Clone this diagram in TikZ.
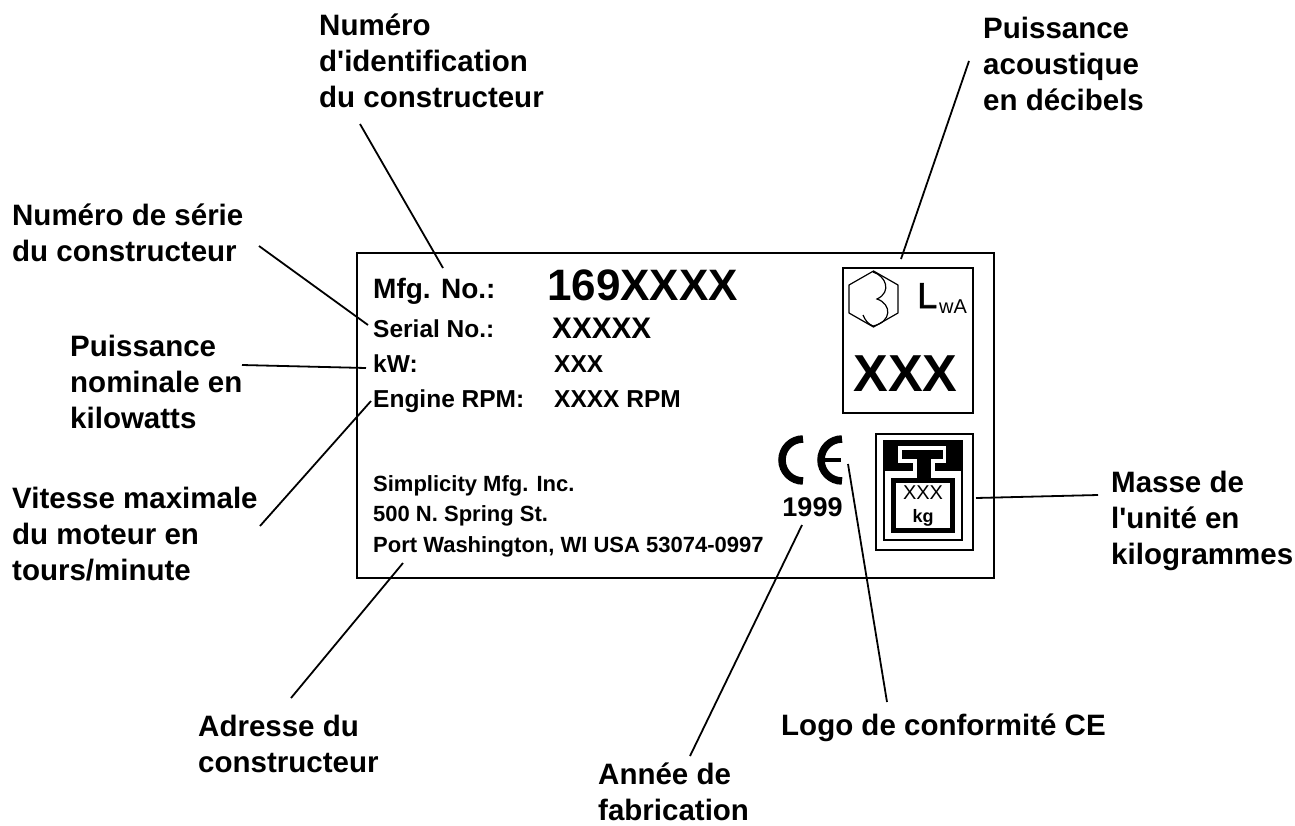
\documentclass[tikz,border=0pt]{standalone}
\usepackage{fontspec}
\setmainfont{Liberation Sans}
\newfontfamily\aposfont{Liberation Sans}
\newfontfamily\heavyfont[FakeBold=1.5]{Liberation Sans}
\newcommand\straightap{{\aposfont '}}
\tikzset{
  x=1pt,y=-1pt,
  callout/.style={inner sep=0pt,font=\fontsize{29.5}{36}\selectfont\bfseries,align=left,anchor=north west,execute at begin node={\rule{0pt}{22pt}}},
  plate/.style={inner sep=0pt,anchor=base west,font=\fontsize{24.5}{26}\selectfont\bfseries},
  small/.style={inner sep=0pt,anchor=base west,font=\fontsize{22}{24}\selectfont\bfseries},
  leader/.style={line width=1.8pt,black},
  frame/.style={draw=black,line width=1.8pt,fill=white,inner sep=0pt,anchor=north west},
}
\begin{document}
\begin{tikzpicture}
\useasboundingbox (0,0) rectangle (1295,825);
\fill[white] (0,0) rectangle (1295,825);
% plate
\node[frame,minimum width=637pt,minimum height=325pt] (plate) at (356,252) {};
\node[frame,minimum width=130pt,minimum height=145pt] (acoustic) at (842,267) {};
\node[frame,minimum width=97pt,minimum height=116pt] (mass) at (875,433) {};
% plate texts
\node[plate,font=\fontsize{28}{30}\selectfont\bfseries] (mfg) at (373,298) {Mfg. No.:};
\node[plate,font=\fontsize{44}{46}\selectfont\bfseries] (mfgv) at (547,300) {169XXXX};
\node[plate] (serial) at (373,337) {Serial No.:};
\node[plate,font=\fontsize{29.7}{30}\selectfont\bfseries] (serialv) at (552,338) {XXXXX};
\node[plate] (kw) at (373,372) {kW:};
\node[plate] (kwv) at (554,372) {XXX};
\node[plate] (rpm) at (373,407) {Engine RPM:};
\node[plate] (rpmv) at (554,407) {XXXX RPM};
\node[small] (addr1) at (373,491) {Simplicity Mfg. Inc.};
\node[small] (addr2) at (373,521) {500 N. Spring St.};
\node[small] (addr3) at (373,552) {Port Washington, WI USA 53074-0997};
% acoustic symbol
\draw[line width=1.2pt,line join=round] (873.5,271) -- (898,285) -- (898,313) -- (873.5,327) -- (849,313) -- (849,285) -- cycle;
\draw[line width=1.2pt] (873,272) .. controls (886,276) and (892,292) .. (877,299) .. controls (892,304) and (892,322) .. (873,326) .. controls (868,324) and (865,320) .. (863,315);
\node[inner sep=0pt,anchor=base west,font=\heavyfont\fontsize{36}{36}\selectfont] (lsym) at (917,308) {L};
\node[inner sep=0pt,anchor=base west,font=\fontsize{20}{20}\selectfont] (wa) at (939,313) {wA};
\node[inner sep=0pt,anchor=base,font=\fontsize{52}{52}\selectfont\bfseries] (xxx) at (905.5,391) {XXX};
% CE
\draw[line width=7.5pt] (803,481) arc[start angle=90,end angle=270,radius=21];
\draw[line width=7.5pt] (842,481) arc[start angle=90,end angle=270,radius=21];
\draw[line width=4.5pt] (822,460) -- (841,460);
\node[inner sep=0pt,anchor=base,font=\fontsize{27}{28}\selectfont\bfseries] (year) at (812.5,516) {1999};
% mass symbol
\draw[line width=2.5pt] (884.2,470) -- (884.2,540) -- (961.8,540) -- (961.8,470);
\fill (883,440) rectangle (963,471);
\fill[white] (898,446) rectangle (946,463);
\fill (902,450) rectangle (943,459);
\fill (917,459) rectangle (931,480);
\fill[white] (913,463) rectangle (917,471);
\fill[white] (931,463) rectangle (935,471);
\draw[line width=5pt] (893.5,480.5) rectangle (952.5,530.5);
\node[inner sep=0pt,anchor=base,font=\fontsize{20}{20}\selectfont] (xk) at (923,499) {XXX};
\node[inner sep=0pt,anchor=base,font=\fontsize{18}{20}\selectfont\bfseries] (kg) at (923,522) {kg};
% callouts (y = first baseline - 22)
\node[callout] (t1) at (319,14) {Numéro\\d\straightap identification\\du constructeur};
\node[callout] (t2) at (12,204) {Numéro de série\\du constructeur};
\node[callout] (t3) at (70,335) {Puissance\\nominale en\\kilowatts};
\node[callout] (t4) at (12,487) {Vitesse maximale\\du moteur en\\tours/minute};
\node[callout] (t5) at (983,17) {Puissance\\acoustique\\en décibels};
\node[callout] (t6) at (1111,471) {Masse de\\l\straightap unité en\\kilogrammes};
\node[callout] (t7) at (198,715) {Adresse du\\constructeur};
\node[callout] (t8) at (781,713) {Logo de conformité CE};
\node[callout] (t9) at (598,763) {Année de\\fabrication};
% leaders
\coordinate (a1) at (360,124); \coordinate (b1) at (443,268);
\coordinate (a2) at (259,246); \coordinate (b2) at (368,325);
\coordinate (a3) at (242,365); \coordinate (b3) at (366,368);
\coordinate (a4) at (260,526); \coordinate (b4) at (371,401);
\coordinate (a5) at (969,61);  \coordinate (b5) at (901,259);
\coordinate (a6) at (1098,495);\coordinate (b6) at (976,498);
\coordinate (a7) at (887,702); \coordinate (b7) at (848,464);
\coordinate (a8) at (690,756); \coordinate (b8) at (802,525);
\coordinate (a9) at (291,698); \coordinate (b9) at (403,563);
\foreach \i in {1,...,9} \draw[leader] (a\i) -- (b\i);
\end{tikzpicture}
\end{document}
